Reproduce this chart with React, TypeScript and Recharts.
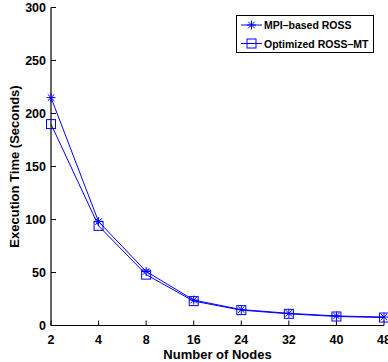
import React from "react";
import { LineChart, Line, XAxis, YAxis, Legend } from "recharts";

const nodes = ["2", "4", "8", "16", "24", "32", "40", "48"];
const mpiRoss = [215, 98, 51, 24, 15, 11.5, 9, 8];
const rossMt = [190, 94, 48, 23, 14.5, 11, 8.5, 7.5];
const yTicks = [0, 50, 100, 150, 200, 250, 300];

const data = nodes.map((n, i) => ({ nodes: n, mpi: mpiRoss[i], mt: rossMt[i] }));

const BLUE = "#0000FF";
const FONT = '"Liberation Sans", Arial, Helvetica, sans-serif';

const StarDot = (props: any) => {
  const { cx, cy } = props;
  if (cx == null || cy == null) return null;
  const r = 4.5;
  const d = r * 0.72;
  return (
    <g stroke={BLUE} strokeWidth={1}>
      <line x1={cx} y1={cy - r} x2={cx} y2={cy + r} />
      <line x1={cx - r} y1={cy} x2={cx + r} y2={cy} />
      <line x1={cx - d} y1={cy - d} x2={cx + d} y2={cy + d} />
      <line x1={cx - d} y1={cy + d} x2={cx + d} y2={cy - d} />
    </g>
  );
};

const SquareDot = (props: any) => {
  const { cx, cy } = props;
  if (cx == null || cy == null) return null;
  const s = 4.5;
  return <rect x={cx - s} y={cy - s} width={s * 2} height={s * 2} fill="none" stroke={BLUE} strokeWidth={1} />;
};

const LegendBox = () => {
  const rows = [
    { label: "MPI–based ROSS", Dot: StarDot, y: 10 },
    { label: "Optimized ROSS–MT", Dot: SquareDot, y: 28.5 },
  ];
  return (
    <svg width={138} height={38} style={{ display: "block" }}>
      <rect x={0.5} y={0.5} width={137} height={37} fill="#fff" stroke="#000" strokeWidth={1} />
      {rows.map((r) => (
        <g key={r.label}>
          <line x1={5} y1={r.y} x2={26} y2={r.y} stroke={BLUE} strokeWidth={1} />
          <r.Dot cx={15.5} cy={r.y} />
          <text x={28} y={r.y} dominantBaseline="central" fontFamily={FONT} fontWeight="bold" fontSize={10.5} fill="#000">
            {r.label}
          </text>
        </g>
      ))}
    </svg>
  );
};

const tickStyle = { fill: "#000", fontSize: 12.5, fontWeight: "bold" as const, fontFamily: FONT };

export default function App() {
  return (
    <div style={{ position: "absolute", left: 0, top: 0, width: 388, height: 362, background: "#fff" }}>
      <LineChart width={388} height={362} data={data} margin={{ top: 7.5, right: 4, bottom: 0, left: 0 }}>
        <XAxis
          dataKey="nodes"
          interval={0}
          height={36.5}
          tickSize={-5}
          tickMargin={15}
          tick={tickStyle}
          axisLine={{ stroke: "#000", strokeWidth: 1.2 }}
          tickLine={{ stroke: "#000" }}
          label={{
            content: (p: any) => {
              const vb = p.viewBox;
              return (
                <text x={vb.x + vb.width / 2} y={358.5} textAnchor="middle" fontFamily={FONT} fontWeight="bold" fontSize={13} fill="#000">
                  Number of Nodes
                </text>
              );
            },
          }}
        />
        <XAxis
          xAxisId="top"
          dataKey="nodes"
          orientation="top"
          interval={0}
          height={0}
          tickSize={-5}
          tickFormatter={() => ""}
          axisLine={{ stroke: "#000", strokeWidth: 1.2 }}
          tickLine={{ stroke: "#000" }}
        />
        <YAxis
          domain={[0, 300]}
          ticks={yTicks}
          width={51}
          tickSize={-5}
          tickMargin={10}
          tick={tickStyle}
          axisLine={{ stroke: "#000", strokeWidth: 1.2 }}
          tickLine={{ stroke: "#000" }}
          label={{
            content: (p: any) => {
              const vb = p.viewBox;
              const cy = vb.y + vb.height / 2;
              return (
                <text x={14} y={cy} transform={`rotate(-90 14 ${cy})`} textAnchor="middle" dominantBaseline="central" fontFamily={FONT} fontWeight="bold" fontSize={13} fill="#000">
                  Execution Time (Seconds)
                </text>
              );
            },
          }}
        />
        <YAxis
          yAxisId="right"
          orientation="right"
          domain={[0, 300]}
          ticks={yTicks}
          width={0}
          tickSize={-5}
          tickFormatter={() => ""}
          axisLine={{ stroke: "#000", strokeWidth: 1.2 }}
          tickLine={{ stroke: "#000" }}
        />
        <Legend
          layout="vertical"
          align="center"
          verticalAlign="middle"
          content={<LegendBox />}
          wrapperStyle={{ left: 236, top: 15, width: 138, height: 38 }}
        />
        <Line dataKey="mpi" name="MPI–based ROSS" stroke={BLUE} strokeWidth={1} dot={<StarDot />} activeDot={false} isAnimationActive={false} />
        <Line dataKey="mt" name="Optimized ROSS–MT" stroke={BLUE} strokeWidth={1} dot={<SquareDot />} activeDot={false} isAnimationActive={false} />
      </LineChart>
    </div>
  );
}
